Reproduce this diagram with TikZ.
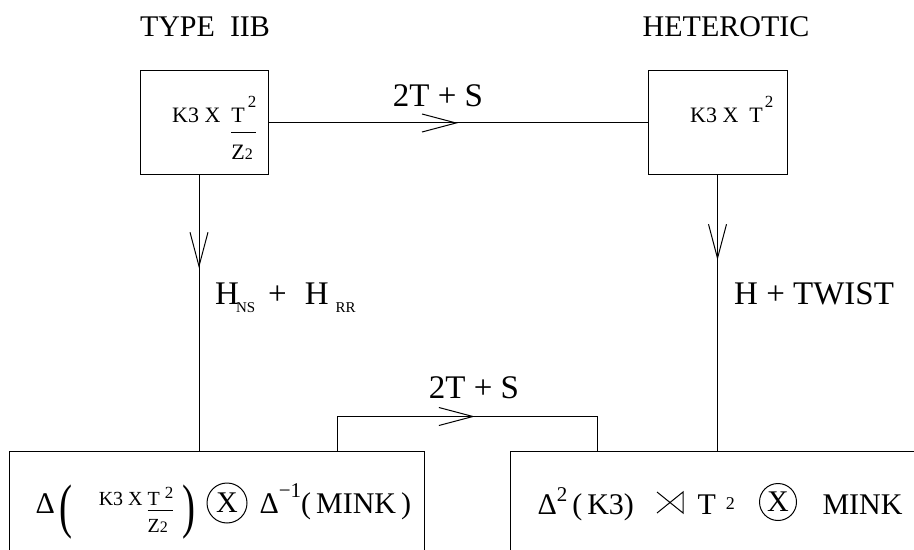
\documentclass[tikz,border=0pt]{standalone}
\usepackage{fontspec}
\usepackage{graphicx}
\setmainfont{Liberation Serif}
\usetikzlibrary{arrows.meta,decorations.markings}

% fraction T^2 over Z_2, baseline on the numerator
\newcommand{\ktfrac}[4]{\vtop{\hbox{T#1\raisebox{#2}{\fontsize{8.5}{9}\selectfont 2}}\kern#3\hrule height 0.5pt\kern#4\hbox{Z\fontsize{8}{9}\selectfont 2}}}
% tall thin parentheses
\newcommand{\lpar}{\raisebox{-6.5pt}{\scalebox{1.3}[2]{(}}}
\newcommand{\rpar}{\raisebox{-6.5pt}{\scalebox{1.3}[2]{)}}}

\tikzset{
  midarrow/.style={postaction={decorate},decoration={markings,
    mark=at position #1 with {\arrow{Straight Barb[length=17pt,width=9pt]}}}},
}

\begin{document}
\begin{tikzpicture}[x=0.5pt,y=-0.5pt,line width=0.5pt,
  box/.style={draw,inner sep=0pt,minimum height=52pt},
  head/.style={font=\fontsize{15}{18}\selectfont},
  lbl/.style={font=\fontsize{16.5}{20}\selectfont},
  small/.style={font=\fontsize{11}{13}\selectfont},
  big/.style={font=\fontsize{15}{18}\selectfont},
  otimes/.style={draw,circle,inner sep=0pt,font=\fontsize{15}{18}\selectfont}]
\useasboundingbox (0,0) rectangle (914,550);
\clip (0,0) rectangle (914,550);

% Headings
\node[head,anchor=base] (iib) at (205,37) {TYPE\ \ IIB};
\node[head,anchor=base] (het) at (726,37) {HETEROTIC};

% Upper boxes
\node[box,minimum width=64pt] (tlbox) at (204,123) {};
\node[box,minimum width=69.5pt] (trbox) at (717.5,123) {};
\node[small,anchor=base west] (tltxt) at (165,123) {K3 X\ \ \ktfrac{\kern1.5pt}{0.72em}{4.5pt}{6pt}};
\node[small,anchor=base west] (trtxt) at (683,123) {K3 X\ \ T\kern1pt\raisebox{0.72em}{\fontsize{8.5}{9}\selectfont 2}};

% Lower boxes
\node[box,minimum width=207.5pt] (blbox) at (216.5,503) {};
\node[box,minimum width=205pt] (brbox) at (715,503) {};

% Left product
\node[big,anchor=base west,inner sep=0pt] (bl1) at (35,513) {Δ\kern2.5pt\lpar\kern13pt\raisebox{4pt}{\fontsize{10}{12}\selectfont K3 X\ \ktfrac{\ }{3.5pt}{2.5pt}{4pt}}\kern4.5pt\rpar};
\node[otimes,minimum size=20pt] (ox1) at (227,503) {X};
\node[big,anchor=base west,inner sep=0pt] (bl2) at (259,513) {Δ\raisebox{8pt}{\fontsize{10.5}{12}\selectfont −1}(\,MINK\,)};

% Right product
\node[big,anchor=base west,inner sep=0pt] (br1) at (537,514) {Δ\raisebox{6.5pt}{\fontsize{10.5}{12}\selectfont 2}\,(\,K3)};
\draw (657,513) -- (683,492) -- (683,513) -- (657,492);
\node[big,anchor=base west,inner sep=0pt] (br2) at (697,514) {T\hspace{5pt}\raisebox{2.5pt}{\fontsize{9}{10}\selectfont 2}};
\node[otimes,minimum size=18.5pt] (ox2) at (778,502) {X};
\node[big,anchor=base west,inner sep=0pt] (br3) at (822,514) {MINK};

% Connectors
\draw[midarrow=0.5] (tlbox) -- (trbox);
\draw[midarrow=0.337] ([xshift=-2.5pt]tlbox.south) -- ([xshift=-2.5pt]tlbox.south |- blbox.north);
\draw[midarrow=0.308] (trbox.south) -- (trbox.south |- brbox.north);
\draw[midarrow=0.524] (blbox.north -| 337,0) -- ++(0,-34) -| (brbox.north -| 597,0);

% Labels
\node[lbl,anchor=base] (tops) at (438,107) {2T + S};
\node[lbl,anchor=base] (bots) at (474,398) {2T + S};
\node[lbl,anchor=base west] (hnsrr) at (208,305) {H\kern-1.5pt\raisebox{-4pt}{\fontsize{7.5}{9}\selectfont NS}\hspace{6.5pt}+\hspace{9pt}H\hspace{3.5pt}\raisebox{-4pt}{\fontsize{7.5}{9}\selectfont RR}};
\node[lbl,anchor=base west] (htw) at (727,305) {H + TWIST};
\end{tikzpicture}
\end{document}
